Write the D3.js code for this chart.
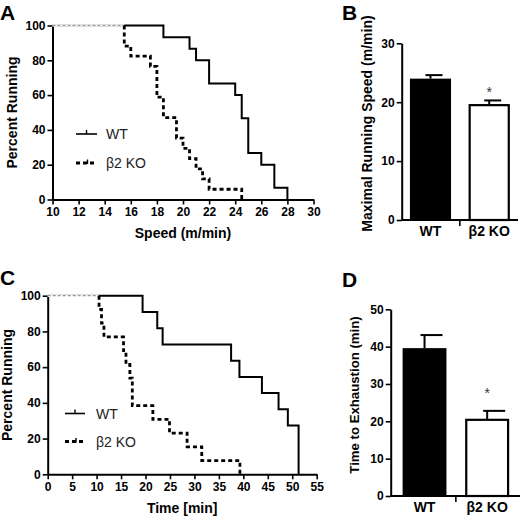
<!DOCTYPE html>
<html><head><meta charset="utf-8">
<script src="https://cdn.jsdelivr.net/npm/d3@7"></script>
<style>
body{margin:0;background:#fff;}
svg{display:block;font-family:"Liberation Sans",Arial,Helvetica,sans-serif;}
</style></head>
<body>
<script>
// ---------- data ----------
const speedTicks = [10,12,14,16,18,20,22,24,26,28,30];
const timeTicks = [0,5,10,15,20,25,30,35,40,45,50,55];
const pctTicks = [0,20,40,60,80,100];

// Panel A: Kaplan-Meier, speed (m/min)
const wtSpeedX = [18.5,20.5,21,22,24,24.5,25,26,27,28];
const wtSpeedY = [93.3,86.7,80,66.7,60,46.7,26.7,20,6.7,0];
const koSpeedX = [15.5,16,17.5,18,18.5,19.5,20,20.5,21,21.5,22,24.5];
const koSpeedY = [88.2,82.4,76.5,58.8,47.1,35.3,29.4,23.5,17.6,11.8,5.9,0];

// Panel C: Kaplan-Meier, time (min)
const wtTimeX = [19.4,22.4,23.5,37.5,39.2,43.8,47.2,49.1,51.3];
const wtTimeY = [90.9,81.8,72.7,63.6,54.5,45.5,36.4,27.3,0];
const koTimeX = [10.5,11,11.5,15.5,16,16.8,17.3,21.5,24.9,28.5,31.5,39.3];
const koTimeY = [92.3,84.6,76.9,69.2,61.5,53.8,38.5,30.8,23.1,15.4,7.7,0];

// Panels B and D: bars
const groups = ["WT","β2 KO"];
const maxSpeed = [24.0,19.5];
const maxSpeedErr = [0.6,0.8];
const speedBarTicks = [0,10,20,30];
const exhaustTime = [39.6,20.4];
const exhaustErr = [3.5,2.4];
const timeBarTicks = [0,10,20,30,40,50];
const signif = ["","*"];

// ---------- drawing ----------
const svg = d3.select("body").append("svg").attr("width",520).attr("height",516);
const FONT = '"Liberation Sans",Arial,Helvetica,sans-serif';

function styleAxis(g, fs){
  g.select(".domain").attr("stroke","#000").attr("stroke-width",2);
  g.selectAll(".tick line").attr("stroke","#000").attr("stroke-width",1.6);
  g.selectAll(".tick text").attr("fill","#000").attr("font-weight","bold")
    .attr("font-size",fs).attr("font-family",FONT);
}

function kmPanel(o){
  const x = d3.scaleLinear().domain(o.xDomain).range(o.xRange);
  const y = d3.scaleLinear().domain([0,100]).range(o.yRange);
  const gx = svg.append("g").attr("transform",`translate(0,${o.yRange[0]})`)
    .call(d3.axisBottom(x).tickValues(o.xTicks).tickSize(5).tickSizeOuter(0).tickPadding(3));
  styleAxis(gx, 12);
  const gy = svg.append("g").attr("transform",`translate(${o.xRange[0]},0)`)
    .call(d3.axisLeft(y).tickValues(pctTicks).tickSize(5).tickSizeOuter(0).tickPadding(2));
  styleAxis(gy, 12);

  const line = d3.line().x(d=>x(d[0])).y(d=>y(d[1])).curve(d3.curveStepAfter);
  const wt = [[o.xDomain[0],100]].concat(o.wtX.map((v,i)=>[v,o.wtY[i]]));
  const ko = [[o.koX[0],100]].concat(o.koX.map((v,i)=>[v,o.koY[i]]));
  svg.append("path").attr("d",line(wt)).attr("fill","none").attr("stroke","#000").attr("stroke-width",2);
  // KO initial plateau (light dotted, drawn over)
  const pre = [[o.xDomain[0],100],[o.koX[0],100]];
  svg.append("path").attr("d",line(pre)).attr("fill","none").attr("stroke","#fff").attr("stroke-width",2.6);
  svg.append("path").attr("d",line(pre)).attr("fill","none").attr("stroke","#999").attr("stroke-width",1.2).attr("stroke-dasharray","3,2");
  svg.append("path").attr("d",line(ko)).attr("fill","none").attr("stroke","#000").attr("stroke-width",2.8).attr("stroke-dasharray","4,3");

  // legend
  const L = o.legend;
  svg.append("line").attr("x1",L.x).attr("x2",L.x+L.w).attr("y1",L.y1).attr("y2",L.y1).attr("stroke","#000").attr("stroke-width",1.6);
  svg.append("line").attr("x1",L.x+L.w/2).attr("x2",L.x+L.w/2).attr("y1",L.y1-4).attr("y2",L.y1).attr("stroke","#000").attr("stroke-width",1.4);
  svg.append("line").attr("x1",L.x).attr("x2",L.x+L.w).attr("y1",L.y2).attr("y2",L.y2).attr("stroke","#000").attr("stroke-width",2.8).attr("stroke-dasharray","4,3");
  svg.append("line").attr("x1",L.x+L.w/2+1).attr("x2",L.x+L.w/2+1).attr("y1",L.y2-3.5).attr("y2",L.y2+1).attr("stroke","#000").attr("stroke-width",1.4);
  svg.append("text").attr("x",L.tx).attr("y",L.y1+5).attr("font-size",14).attr("fill","#222").text(groups[0]);
  svg.append("text").attr("x",L.tx).attr("y",L.y2+5).attr("font-size",14).attr("fill","#222").text(groups[1]);

  // titles
  svg.append("text").attr("x",(o.xRange[0]+o.xRange[1])/2).attr("y",o.xTitleY)
    .attr("text-anchor","middle").attr("font-size",14).attr("font-weight","bold").text(o.xTitle);
  svg.append("text").attr("transform",`translate(${o.yTitleX},${o.yTitleC}) rotate(-90)`)
    .attr("text-anchor","middle").attr("font-size",14).attr("font-weight","bold").text("Percent Running");
}

function barPanel(o){
  const x = d3.scaleBand().domain(groups).range(o.xRange).paddingInner(0.3).paddingOuter(o.po);
  const y = d3.scaleLinear().domain(o.yDomain).range(o.yRange);
  const bw = x.bandwidth();
  groups.forEach((gname,i)=>{
    const v = o.vals[i], e = o.errs[i], c = x(gname)+bw/2;
    svg.append("line").attr("x1",c).attr("x2",c).attr("y1",y(v)).attr("y2",y(v+e)).attr("stroke","#000").attr("stroke-width",2);
    svg.append("line").attr("x1",c-o.capL).attr("x2",c+o.capR).attr("y1",y(v+e)).attr("y2",y(v+e)).attr("stroke","#000").attr("stroke-width",2);
    svg.append("rect").attr("x",x(gname)+(i?1:0)).attr("y",y(v)).attr("width",bw-(i?2:0)).attr("height",y(0)-y(v))
      .attr("fill",i===0?"#000":"#fff").attr("stroke","#000").attr("stroke-width",i===0?0:2.2);
    if(signif[i]) svg.append("text").attr("x",c).attr("y",y(v+e)-o.starOff).attr("text-anchor","middle")
      .attr("font-size",14).attr("fill","#333").text(signif[i]);
  });
  const gx = svg.append("g").attr("transform",`translate(0,${o.yRange[0]})`)
    .call(d3.axisBottom(x).tickSize(0).tickSizeOuter(0).tickPadding(6));
  styleAxis(gx, 14);
  gx.select(".domain").attr("d",`M${o.xRange[0]},0H${o.xRange[1]}`);
  const boundary = (x(groups[0])+bw + x(groups[1]))/2;
  svg.append("line").attr("x1",boundary).attr("x2",boundary).attr("y1",o.yRange[0]).attr("y2",o.yRange[0]+6).attr("stroke","#000").attr("stroke-width",1.6);
  const gy = svg.append("g").attr("transform",`translate(${o.xRange[0]},0)`)
    .call(d3.axisLeft(y).tickValues(o.ticks).tickSize(5).tickSizeOuter(0).tickPadding(2));
  styleAxis(gy, 12);
  svg.append("text").attr("transform",`translate(${o.yTitleX},${o.yTitleC}) rotate(-90)`)
    .attr("text-anchor","middle").attr("font-size",o.yTitleFs).attr("font-weight","bold").text(o.yTitle);
}

kmPanel({xDomain:[10,30], xRange:[52.5,313.5], yRange:[199.5,25.5], xTicks:speedTicks,
  wtX:wtSpeedX, wtY:wtSpeedY, koX:koSpeedX, koY:koSpeedY,
  legend:{x:76,w:21,y1:134,y2:163,tx:106},
  xTitle:"Speed (m/min)", xTitleY:238, yTitleX:17, yTitleC:112.5});

kmPanel({xDomain:[0,55], xRange:[47.7,316.7], yRange:[474.3,295.7], xTicks:timeTicks,
  wtX:wtTimeX, wtY:wtTimeY, koX:koTimeX, koY:koTimeY,
  legend:{x:65,w:20,y1:413.5,y2:441.5,tx:96},
  xTitle:"Time [min]", xTitleY:513, yTitleX:12, yTitleC:385});

barPanel({xRange:[401.7,518], po:0.14, yDomain:[0,30], yRange:[220,43.3], ticks:speedBarTicks,
  vals:maxSpeed, errs:maxSpeedErr, capL:5, capR:12, starOff:3,
  yTitle:"Maximal Running Speed (m/min)", yTitleX:372, yTitleC:123.5, yTitleFs:14});

barPanel({xRange:[390.7,521], po:0.19, yDomain:[0,50], yRange:[496,309.3], ticks:timeBarTicks,
  vals:exhaustTime, errs:exhaustErr, capL:4, capR:18, starOff:13,
  yTitle:"Time to Exhaustion (min)", yTitleX:359, yTitleC:395, yTitleFs:13.2});

// panel letters
[["A",0,20],["B",342,20],["C",0,285],["D",342,287]].forEach(([t,px,py])=>{
  svg.append("text").attr("x",px).attr("y",py).attr("font-size",21).attr("font-weight","bold").text(t);
});
</script>
</body></html>
